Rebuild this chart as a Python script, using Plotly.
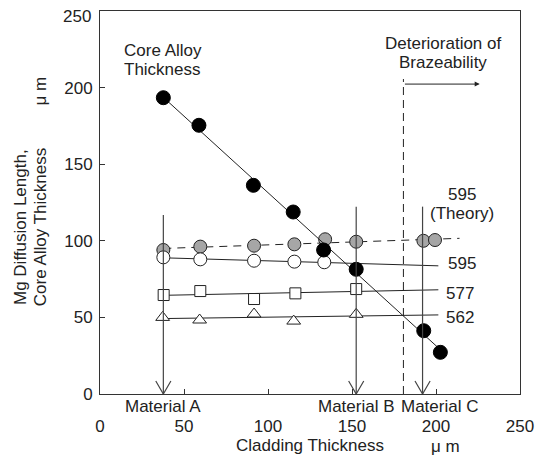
import numpy as np
import plotly.graph_objects as go

# ---------------- data ----------------
core_x = [37.7, 58.9, 91.3, 115.0, 133.1, 152.5, 192.7, 202.6]
core_y = [193.4, 175.4, 136.2, 118.8, 94.0, 81.4, 41.3, 27.2]

theory_x = [37.7, 59.7, 91.7, 115.7, 134.0, 152.5, 192.5, 199.4]
theory_y = [94.0, 96.2, 96.8, 97.7, 101.0, 99.4, 100.0, 100.5]

m595_x = [37.7, 59.7, 91.7, 115.7, 133.5]
m595_y = [89.2, 87.9, 87.0, 86.4, 86.0]

m577_x = [37.9, 59.7, 91.7, 116.3, 152.5]
m577_y = [64.6, 67.2, 62.0, 65.7, 68.5]

m562_x = [37.3, 59.3, 91.7, 115.3, 152.5]
m562_y = [50.0, 48.3, 52.2, 47.6, 52.0]

material_names = ["Material A", "Material B", "Material C"]
material_x = [37.7, 152.5, 192.0]
material_top = [116.8, 122.3, 122.3]

braze_limit_x = 180.6
braze_limit_top = 205.6
braze_arrow_end = 226.0

x_ticks = [0, 50, 100, 150, 200, 250]
y_ticks = [0, 50, 100, 150, 200, 250]
y_tick_labels = ["0", "50", "100", "150", "200", "250"]

# ---------------- figure ----------------
FONT = "Liberation Sans, Arial, sans-serif"
INK = "#222222"
fig = go.Figure()


def fit_line(xs, ys, x0, x1):
    k, b = np.polyfit(xs, ys, 1)
    return [x0, x1], [k * x0 + b, k * x1 + b]


# theory dashed line
lx, ly = fit_line(theory_x, theory_y, min(theory_x), 214)
fig.add_trace(go.Scatter(x=lx, y=ly, mode="lines",
                         line=dict(color=INK, width=1, dash="8px,6px"), hoverinfo="skip"))
# measured lines
for xs, ys in [(m595_x, m595_y), (m577_x, m577_y), (m562_x, m562_y)]:
    lx, ly = fit_line(xs, ys, min(xs), 201.4)
    fig.add_trace(go.Scatter(x=lx, y=ly, mode="lines",
                             line=dict(color=INK, width=1), hoverinfo="skip"))

# braze limit dashed vertical
fig.add_trace(go.Scatter(x=[braze_limit_x, braze_limit_x], y=[0, braze_limit_top], mode="lines",
                         line=dict(color=INK, width=1, dash="8px,5px"), hoverinfo="skip"))

# markers
fig.add_trace(go.Scatter(x=theory_x, y=theory_y, mode="markers",
                         marker=dict(symbol="circle", size=13, color="#a6a6a6",
                                     line=dict(color=INK, width=1))))
fig.add_trace(go.Scatter(x=m595_x, y=m595_y, mode="markers",
                         marker=dict(symbol="circle", size=13, color="white",
                                     line=dict(color=INK, width=1))))
fig.add_trace(go.Scatter(x=m577_x, y=m577_y, mode="markers",
                         marker=dict(symbol="square", size=11, color="white",
                                     line=dict(color=INK, width=1))))
fig.add_trace(go.Scatter(x=m562_x, y=m562_y, mode="markers",
                         marker=dict(symbol="triangle-up", size=12, color="white",
                                     line=dict(color=INK, width=1))))

# core alloy line + markers
lx, ly = fit_line(core_x, core_y, min(core_x), max(core_x))
fig.add_trace(go.Scatter(x=lx, y=ly, mode="lines",
                         line=dict(color=INK, width=1), hoverinfo="skip"))
fig.add_trace(go.Scatter(x=core_x, y=core_y, mode="markers",
                         marker=dict(symbol="circle", size=14, color="black",
                                     line=dict(color="black", width=1))))

# material vertical arrows (shaft + open V head)
ARROW_DX, ARROW_DY = 4.5, 8.5
vx, vy, hx, hy = [], [], [], []
for mx, mt in zip(material_x, material_top):
    vx += [mx, mx, None]
    vy += [mt, 0, None]
    hx += [mx - ARROW_DX, mx, mx + ARROW_DX, None]
    hy += [ARROW_DY, 0, ARROW_DY, None]
fig.add_trace(go.Scatter(x=vx, y=vy, mode="lines",
                         line=dict(color="#444444", width=1.2), hoverinfo="skip"))
fig.add_trace(go.Scatter(x=hx, y=hy, mode="lines",
                         line=dict(color="#444444", width=1.2), hoverinfo="skip"))

ann = []


def txt(text, x, y, xanchor="center", xref="x", yref="y", angle=0, xshift=0, yshift=0):
    ann.append(dict(text=text, x=x, y=y, xref=xref, yref=yref, xanchor=xanchor,
                    yanchor="middle", showarrow=False, textangle=angle,
                    xshift=xshift, yshift=yshift,
                    font=dict(family=FONT, size=17, color=INK)))


txt("Core Alloy", 12.8, 224.5, xanchor="left")
txt("Thickness", 12.8, 212.1, xanchor="left")
txt("Deterioration of", 204.4, 228.5)
txt("Brazeability", 204.4, 216.5)
txt("595", 215.2, 129.9)
txt("(Theory)", 215.2, 118.1)
txt("595", 205.8, 85.3, xanchor="left")
txt("577", 205.0, 65.7, xanchor="left")
txt("562", 205.0, 50.1, xanchor="left")

label_shift = [0, 0, 10.2]
for name, mx, sh in zip(material_names, material_x, label_shift):
    txt(name, mx + sh, -0.033, yref="paper")

txt("\u03bc m", 205.8, -0.138, yref="paper")
txt("Mg Diffusion Length,", -0.189, 0.435, xref="paper", yref="paper", angle=-90)
txt("Core Alloy Thickness", -0.141, 0.435, xref="paper", yref="paper", angle=-90)
txt("\u03bc m", -0.141, 0.792, xref="paper", yref="paper", angle=-90)

# top y tick label drawn as annotation, nudged down so the page edge does not clip it
txt(y_tick_labels[-1], 0, y_ticks[-1], xanchor="right", xref="paper", xshift=-7, yshift=-5)
axis_y_labels = y_tick_labels[:-1] + [""]

# horizontal brazeability arrow
ann.append(dict(x=braze_arrow_end, y=202.3, ax=braze_limit_x, ay=202.3,
                xref="x", yref="y", axref="x", ayref="y", text="", showarrow=True,
                arrowhead=2, arrowsize=1, arrowwidth=1, arrowcolor=INK))

# page body adds an 8px offset; compensate in size and margins
fig.update_layout(
    width=536, height=451,
    margin=dict(l=91.5, r=23.5, t=3, b=65, autoexpand=False),
    paper_bgcolor="white", plot_bgcolor="white",
    showlegend=False,
    font=dict(family=FONT, size=17, color=INK),
    annotations=ann,
    xaxis=dict(range=[0, 250], tickvals=x_ticks, ticks="inside", ticklen=5,
               tickcolor="#333333", showline=True, mirror=True, linecolor="#333333",
               linewidth=1, showgrid=False, zeroline=False, ticklabelstandoff=17,
               automargin=False, ticklabeloverflow="allow",
               title=dict(text="Cladding Thickness", standoff=2,
                          font=dict(family=FONT, size=17, color=INK))),
    yaxis=dict(range=[0, 250], tickvals=y_ticks, ticktext=axis_y_labels,
               ticks="inside", ticklen=5,
               tickcolor="#333333", showline=True, mirror=True, linecolor="#333333",
               linewidth=1, showgrid=False, zeroline=False, ticklabelstandoff=3,
               automargin=False, ticklabeloverflow="allow"),
)

fig.write_html("out.html")
